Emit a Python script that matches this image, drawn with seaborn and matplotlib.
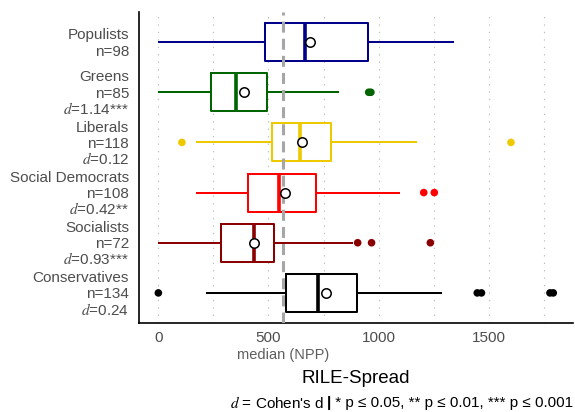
import numpy as np
import pandas as pd
import matplotlib
matplotlib.use("Agg")
import matplotlib.pyplot as plt
import matplotlib.transforms as mtransforms
import seaborn as sns

# Party families, top to bottom
parties = ["Populists", "Greens", "Liberals", "Social Democrats", "Socialists", "Conservatives"]
n_obs = [98, 85, 118, 108, 72, 134]
cohens_d = [None, "1.14***", "0.12", "0.42**", "0.93***", "0.24"]
colors = ["#00008B", "#006400", "#EEC900", "#FF0000", "#8B0000", "#000000"]

# Box summaries of the RILE spread
whisker_low = [0, 0, 169, 169, 0, 217]
q1 = [483, 240, 514, 406, 285, 580]
median = [667, 354, 642, 546, 435, 724]
q3 = [950, 492, 784, 715, 526, 900]
whisker_high = [1343, 820, 1175, 1097, 885, 1287]
means = [690, 390, 654, 577, 435, 760]
outliers = [[], [955, 965], [107, 1601], [1205, 1253], [905, 968, 1235],
            [0, 1448, 1467, 1778, 1793]]
npp_median = 565

x_ticks = [0, 500, 1000, 1500]
x_minor = [250, 750, 1250, 1750]

sns.set_theme(style="white")
plt.rcParams["font.family"] = ["Liberation Sans", "DejaVu Sans"]
plt.rcParams["mathtext.fontset"] = "stix"

# Five summary values per party: with whiskers at the extremes, the
# quartiles seaborn computes are exactly q1, median and q3.
rows = []
for i, p in enumerate(parties):
    for v in (whisker_low[i], q1[i], median[i], q3[i], whisker_high[i]):
        rows.append({"party": p, "RILE": v})
box_df = pd.DataFrame(rows)

out_x, out_y, out_party = [], [], []
for i, p in enumerate(parties):
    for v in outliers[i]:
        out_x.append(v)
        out_y.append(i)
        out_party.append(p)

fig = plt.figure(figsize=(5.75, 4.12), dpi=100)
W, H = 575, 412
ax_left, ax_right, ax_top, ax_bottom = 138.6, 573, 12, 323
ax = fig.add_axes([ax_left / W, (H - ax_bottom) / H,
                   (ax_right - ax_left) / W, (ax_bottom - ax_top) / H])

palette = dict(zip(parties, colors))

# white backing for the boxes so the grid doesn't show through
sns.boxplot(data=box_df, x="RILE", y="party", order=parties, orient="h",
            whis=np.inf, width=0.76, color="white", linecolor="white",
            saturation=1, linewidth=0, showcaps=False, ax=ax)
sns.boxplot(data=box_df, x="RILE", y="party", hue="party", order=parties,
            hue_order=parties, palette=palette, orient="h", whis=np.inf,
            fill=False, width=0.76, saturation=1, linewidth=1.45,
            showcaps=False, medianprops={"linewidth": 2.6}, legend=False, ax=ax)

ax.axvline(npp_median, color="#A6A6A6", lw=2.2, dashes=(3.6, 2), zorder=4)

sns.scatterplot(x=out_x, y=out_y, hue=out_party, palette=palette, s=30,
                linewidth=0, legend=False, zorder=5, ax=ax)
sns.scatterplot(x=means, y=np.arange(len(parties)), color="white",
                edgecolor="black", s=46, linewidth=1.1, legend=False,
                zorder=6, ax=ax)

ax.set_xlim(-89.65, 1882.65)
ax.set_ylim(len(parties) - 0.4, -0.6)

ax.set_xticks(x_ticks)
ax.set_xticks(x_minor, minor=True)
ax.set_xticklabels([str(t) for t in x_ticks])
ax.grid(True, which="both", axis="x", color="#BDBDBD",
        linestyle=(0, (1.2, 5.5)), lw=0.8)
ax.grid(False, axis="y")
ax.set_axisbelow(True)

# category labels: one text per line so every line gets the same spacing
ax.set_yticks(range(len(parties)))
ax.set_yticklabels([""] * len(parties))
ax.set_ylabel("")
px_per_unit = (ax_bottom - ax_top) / (ax.get_ylim()[0] - ax.get_ylim()[1])
line_step = 16.3 / px_per_unit
base_drop = 5.4 / px_per_unit
label_x = (129 - ax_left) / (ax_right - ax_left)
ytrans = mtransforms.blended_transform_factory(ax.transAxes, ax.transData)
for i, p in enumerate(parties):
    lines = [p, f"n={n_obs[i]}"]
    if cohens_d[i] is not None:
        lines.append(f"$d$={cohens_d[i]}")
    k = len(lines)
    for j, line in enumerate(lines):
        y = i + (j - (k - 1) / 2) * line_step + base_drop
        ax.text(label_x, y, line, transform=ytrans, ha="right", va="baseline",
                fontsize=11, color="#4D4D4D", clip_on=False)

ax.tick_params(axis="both", which="major", length=3.6, width=0.9,
               color="#333333", labelcolor="#4D4D4D", labelsize=11, pad=2.5)
ax.tick_params(axis="both", which="minor", length=0)

for side in ("top", "right"):
    ax.spines[side].set_visible(False)
for side in ("left", "bottom"):
    ax.spines[side].set_color("black")
    ax.spines[side].set_linewidth(1.2)

trans = mtransforms.blended_transform_factory(ax.transData, ax.transAxes)
ax.text(npp_median, (ax_bottom - 355) / (ax_bottom - ax_top), "median (NPP)",
        transform=trans, ha="center", va="center", color="#5E5E5E",
        fontsize=10.5)

ax.set_xlabel("RILE-Spread", fontsize=13.5, color="black")
ax.xaxis.set_label_coords(0.5, (ax_bottom - 370) / (ax_bottom - ax_top))

# caption: normal text around a bold separator bar
renderer = fig.canvas.get_renderer()
cap_y = 0.022
right_txt = fig.text(0.997, cap_y, " * p ≤ 0.05, ** p ≤ 0.01, *** p ≤ 0.001",
                     ha="right", va="center", fontsize=11, color="black")
bb = right_txt.get_window_extent(renderer)
bar = fig.text(bb.x0 / W, cap_y, "|", ha="right", va="center", fontsize=11,
               fontweight="bold", color="black")
bb2 = bar.get_window_extent(renderer)
fig.text((bb2.x0 - 3) / W, cap_y, r"$d$ = Cohen's d", ha="right", va="center",
         fontsize=11, color="black")

fig.savefig("out.png", dpi=100)
